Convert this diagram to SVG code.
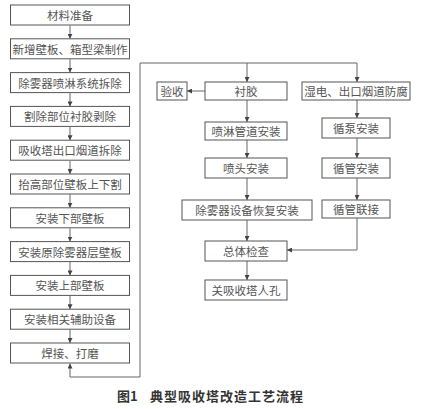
<svg xmlns="http://www.w3.org/2000/svg" width="422" height="409" viewBox="0 0 422 409">
<style>
.b{fill:#fff;stroke:#555;stroke-width:1}
.t{font-family:"Noto Sans CJK SC","Noto Sans",sans-serif;font-size:11.5px;fill:#555;text-anchor:middle;dominant-baseline:central}
.c{fill:none;stroke:#666;stroke-width:1}
.cap{font-family:"Noto Sans CJK SC","Noto Sans",sans-serif;font-size:13px;font-weight:bold;fill:#333}
</style>
<defs>
<marker id="a" viewBox="0 0 6 6" refX="6" refY="3" markerWidth="5" markerHeight="5" orient="auto" markerUnits="userSpaceOnUse"><path d="M0,0L6,3L0,6z" fill="#444"/></marker>
</defs>
<rect width="422" height="409" fill="#fff"/>
<g id="connectors">
<path class="c" marker-end="url(#a)" d="M70,25.5V38.8"/>
<path class="c" marker-end="url(#a)" d="M70,59.3V72.6"/>
<path class="c" marker-end="url(#a)" d="M70,93.1V106.4"/>
<path class="c" marker-end="url(#a)" d="M70,126.9V140.2"/>
<path class="c" marker-end="url(#a)" d="M70,160.7V174"/>
<path class="c" marker-end="url(#a)" d="M70,194.5V207.8"/>
<path class="c" marker-end="url(#a)" d="M70,228.3V241.6"/>
<path class="c" marker-end="url(#a)" d="M70,262.1V275.4"/>
<path class="c" marker-end="url(#a)" d="M70,295.9V309.2"/>
<path class="c" marker-end="url(#a)" d="M70,329.7V343"/>
<path class="c" marker-end="url(#a)" d="M140,63V377H70V363.5"/>
<path class="c" d="M140,63H357"/>
<path class="c" marker-end="url(#a)" d="M247,63V82"/>
<path class="c" marker-end="url(#a)" d="M357,63V82"/>
<path class="c" marker-end="url(#a)" d="M205,91H187"/>
<path class="c" marker-end="url(#a)" d="M247,100V122"/>
<path class="c" marker-end="url(#a)" d="M247,140V158"/>
<path class="c" marker-end="url(#a)" d="M247,178V200"/>
<path class="c" marker-end="url(#a)" d="M247,220V241"/>
<path class="c" marker-end="url(#a)" d="M247,261V280"/>
<path class="c" marker-end="url(#a)" d="M357,100V118"/>
<path class="c" marker-end="url(#a)" d="M357,138V158"/>
<path class="c" marker-end="url(#a)" d="M357,178V200"/>
<path class="c" marker-end="url(#a)" d="M357,218V250H287"/>
</g>
<g id="n1"><rect class="b" x="10.5" y="5" width="119" height="20"/><text class="t" x="70" y="15">材料准备</text></g>
<g id="n2"><rect class="b" x="10.5" y="38.8" width="119" height="20"/><text class="t" x="70" y="48.8">新增壁板、箱型梁制作</text></g>
<g id="n3"><rect class="b" x="10.5" y="72.6" width="119" height="20"/><text class="t" x="70" y="82.6">除雾器喷淋系统拆除</text></g>
<g id="n4"><rect class="b" x="10.5" y="106.4" width="119" height="20"/><text class="t" x="70" y="116.4">割除部位衬胶剥除</text></g>
<g id="n5"><rect class="b" x="10.5" y="140.2" width="119" height="20"/><text class="t" x="70" y="150.2">吸收塔出口烟道拆除</text></g>
<g id="n6"><rect class="b" x="10.5" y="174" width="119" height="20"/><text class="t" x="70" y="184">抬高部位壁板上下割</text></g>
<g id="n7"><rect class="b" x="10.5" y="207.8" width="119" height="20"/><text class="t" x="70" y="217.8">安装下部壁板</text></g>
<g id="n8"><rect class="b" x="10.5" y="241.6" width="119" height="20"/><text class="t" x="70" y="251.6">安装原除雾器层壁板</text></g>
<g id="n9"><rect class="b" x="10.5" y="275.4" width="119" height="20"/><text class="t" x="70" y="285.4">安装上部壁板</text></g>
<g id="n10"><rect class="b" x="10.5" y="309.2" width="119" height="20"/><text class="t" x="70" y="319.2">安装相关辅助设备</text></g>
<g id="n11"><rect class="b" x="10.5" y="343" width="119" height="20"/><text class="t" x="70" y="353">焊接、打磨</text></g>
<g id="n12"><rect class="b" x="157" y="82" width="30" height="18"/><text class="t" x="172" y="91">验收</text></g>
<g id="n13"><rect class="b" x="205" y="82" width="82" height="18"/><text class="t" x="246" y="91">衬胶</text></g>
<g id="n14"><rect class="b" x="205" y="122" width="82" height="18"/><text class="t" x="246" y="131">喷淋管道安装</text></g>
<g id="n15"><rect class="b" x="205" y="158" width="82" height="20"/><text class="t" x="246" y="168">喷头安装</text></g>
<g id="n16"><rect class="b" x="182" y="200" width="130" height="20"/><text class="t" x="247" y="210">除雾器设备恢复安装</text></g>
<g id="n17"><rect class="b" x="205" y="241" width="82" height="20"/><text class="t" x="246" y="251">总体检查</text></g>
<g id="n18"><rect class="b" x="205" y="280" width="82" height="20"/><text class="t" x="246" y="290">关吸收塔人孔</text></g>
<g id="n19"><rect class="b" x="302" y="82" width="108" height="18"/><text class="t" x="356" y="91">湿电、出口烟道防腐</text></g>
<g id="n20"><rect class="b" x="322" y="118" width="68" height="20"/><text class="t" x="356" y="128">循泵安装</text></g>
<g id="n21"><rect class="b" x="322" y="158" width="68" height="20"/><text class="t" x="356" y="168">循管安装</text></g>
<g id="n22"><rect class="b" x="322" y="200" width="68" height="18"/><text class="t" x="356" y="209">循管联接</text></g>
<text class="cap" x="117" y="401">图1<tspan x="150" letter-spacing="1">典型吸收塔改造工艺流程</tspan></text>
</svg>
